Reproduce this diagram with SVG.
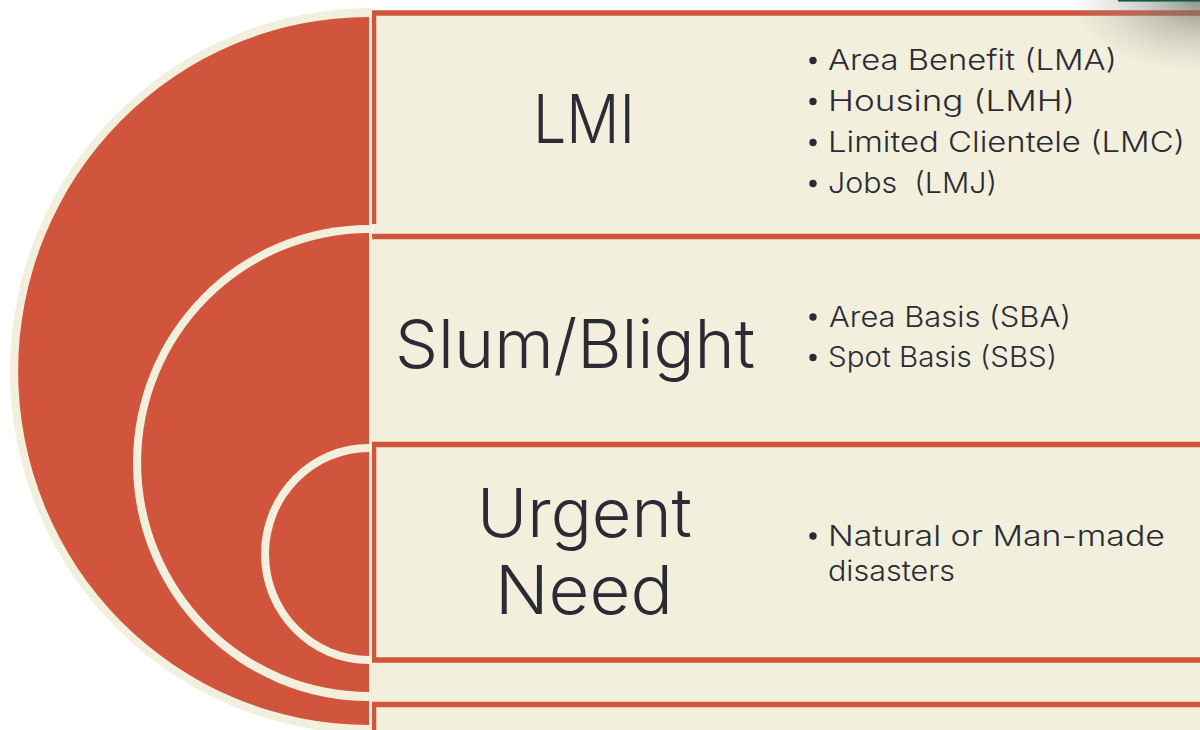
<svg xmlns="http://www.w3.org/2000/svg" width="1200" height="730" viewBox="0 0 1200 730">
<defs>
<radialGradient id="sh" cx="1200" cy="0" r="130" gradientUnits="userSpaceOnUse" gradientTransform="translate(1200,0) scale(1,0.55) translate(-1200,0)">
<stop offset="0" stop-color="#6e6e66" stop-opacity="0.75"/>
<stop offset="0.5" stop-color="#8a8a82" stop-opacity="0.35"/>
<stop offset="1" stop-color="#a0a098" stop-opacity="0"/>
</radialGradient>
</defs>
<style>
.box{fill:#F2F0DC;stroke:none}
.bd{fill:none;stroke:#D1553D;stroke-width:5.5}
.ring{fill:#F2F0DC}
.disc{fill:#D1553D}
.t{font-family:Inter,"Liberation Sans",sans-serif;font-weight:300;fill:#2B2B35}
.title{font-size:67px}
.li{font-size:28px}
.dot{fill:#2B2B35}
</style>
<rect width="1200" height="730" fill="#FFFFFF"/>

<g id="box-lmi">
<rect class="box" x="373" y="13" width="840" height="224"/>
<path class="bd" d="M1210,13 H373.5 V224"/>
</g>
<g id="box-slum">
<rect class="box" x="366" y="236.5" width="850" height="468"/>
<path class="bd" d="M366,236.5 H1210"/>
</g>
<g id="box-bottom">
<rect class="box" x="373.5" y="704.5" width="840" height="40"/>
<path class="bd" d="M1210,704.5 H373.5 V740"/>
</g>
<g id="box-urgent">
<rect class="box" x="373.5" y="444.5" width="840" height="215.5"/>
<path class="bd" d="M1210,444.5 H373.5 V660 H1210"/>
</g>

<g id="arcs">
<path class="ring" d="M372,8 A362 363 0 0 0 372,734 Z"/>
<path class="disc" d="M369,17 A351 354 0 0 0 369,725 Z"/>
<path class="ring" d="M369,225 A236 238 0 0 0 369,701 Z"/>
<path class="disc" d="M369,233 A228 229.5 0 0 0 369,692 Z"/>
<path class="ring" d="M369,444 A108 110 0 0 0 369,664 Z"/>
<path class="disc" d="M369,452 A100 102 0 0 0 369,656 Z"/>
</g>

<g id="shadow">
<rect x="1040" y="0" width="160" height="90" fill="url(#sh)"/>
<rect x="1118" y="0" width="82" height="1.6" fill="#0E5A43"/>
</g>

<g id="lmi">
<text class="t title" x="533" y="143" textLength="102" lengthAdjust="spacingAndGlyphs">LMI</text>
<circle class="dot" cx="813" cy="60.5" r="3.7"/>
<text class="t li" x="828" y="70" textLength="289" lengthAdjust="spacingAndGlyphs">Area Benefit (LMA)</text>
<circle class="dot" cx="813" cy="101.5" r="3.7"/>
<text class="t li" x="828" y="111" textLength="247" lengthAdjust="spacingAndGlyphs">Housing (LMH)</text>
<circle class="dot" cx="813" cy="142.5" r="3.7"/>
<text class="t li" x="828" y="152" textLength="357" lengthAdjust="spacingAndGlyphs">Limited Clientele (LMC)</text>
<circle class="dot" cx="813" cy="183.5" r="3.7"/>
<text class="t li" x="828" y="193" textLength="169" lengthAdjust="spacingAndGlyphs" xml:space="preserve">Jobs  (LMJ)</text>
</g>

<g id="slum">
<text class="t title" x="395" y="368" textLength="360" lengthAdjust="spacingAndGlyphs">Slum/Blight</text>
<circle class="dot" cx="813" cy="317" r="3.7"/>
<text class="t li" x="829" y="326.5" textLength="242" lengthAdjust="spacingAndGlyphs">Area Basis (SBA)</text>
<circle class="dot" cx="813" cy="357.5" r="3.7"/>
<text class="t li" x="828" y="367" textLength="229" lengthAdjust="spacingAndGlyphs">Spot Basis (SBS)</text>
</g>

<g id="urgent">
<text class="t title" x="477" y="537" textLength="215" lengthAdjust="spacingAndGlyphs">Urgent</text>
<text class="t title" x="495" y="614" textLength="178" lengthAdjust="spacingAndGlyphs">Need</text>
<circle class="dot" cx="813" cy="536" r="3.7"/>
<text class="t li" x="828" y="545.5" textLength="337" lengthAdjust="spacingAndGlyphs">Natural or Man-made</text>
<text class="t li" x="828" y="581" textLength="127" lengthAdjust="spacingAndGlyphs">disasters</text>
</g>
</svg>
